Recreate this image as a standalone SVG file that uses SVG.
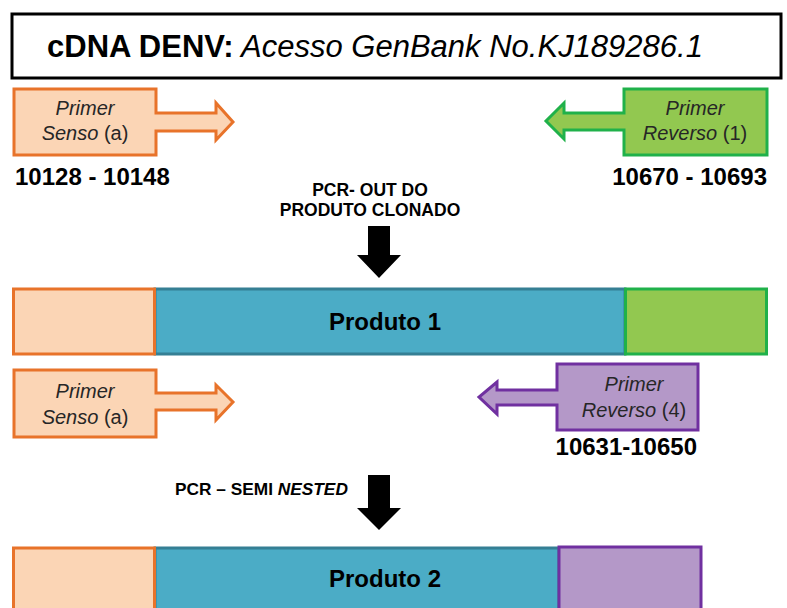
<svg xmlns="http://www.w3.org/2000/svg" width="787" height="608" viewBox="0 0 787 608">
  <style>
    .t { font-family: "Liberation Sans", Arial, sans-serif; fill: #000; }
    .b { font-weight: bold; }
    .i { font-style: italic; }
    .pl { font-family: "Liberation Sans", Arial, sans-serif; font-size: 20px; fill: #262626; text-anchor: middle; }
    .num { font-family: "Liberation Sans", Arial, sans-serif; font-size: 24px; font-weight: bold; fill: #000; }
    .orange { fill: #FBD5B5; stroke: #E8732A; stroke-width: 3; stroke-linejoin: miter; }
    .green { fill: #92C850; stroke: #20B14A; stroke-width: 3; }
    .purple { fill: #B498C8; stroke: #7030A0; stroke-width: 3; }
    .blue { fill: #4BACC6; stroke: #357F94; stroke-width: 3; }
    .down { fill: #000; }
  </style>

  <!-- header -->
  <g id="header">
    <rect x="12" y="14" width="769" height="64" fill="#fff" stroke="#000" stroke-width="3"/>
    <text class="t" x="47" y="57" font-size="31"><tspan class="b">cDNA DENV:</tspan><tspan class="i"> Acesso GenBank No.KJ189286.1</tspan></text>
  </g>

  <!-- first PCR primers -->
  <g id="primer-senso-1">
    <path class="orange" d="M14,89 H156 V113 H216 V103 L233,122 L216,140 V131 H156 V155 H14 Z"/>
    <text class="pl i" x="85" y="115">Primer</text>
    <text class="pl" x="85" y="140"><tspan class="i">Senso</tspan> (a)</text>
    <text class="num" x="15" y="185">10128 - 10148</text>
  </g>

  <g id="primer-reverso-1">
    <path class="green" d="M767,89 H624 V113 H564 V103 L546,121 L564,139 V130 H624 V155 H767 Z"/>
    <text class="pl" x="695" y="115"><tspan class="i">Primer</tspan></text>
    <text class="pl" x="695" y="140"><tspan class="i">Reverso</tspan> (1)</text>
    <text class="num" x="767" y="185" text-anchor="end">10670 - 10693</text>
  </g>

  <!-- step arrows -->
  <g id="connectors">
    <g id="step-1">
      <text class="t b" x="370" y="196" font-size="17.5" text-anchor="middle">PCR- OUT DO</text>
      <text class="t b" x="370" y="216" font-size="17.5" text-anchor="middle">PRODUTO CLONADO</text>
      <path class="down" d="M368,226 H390 V255 H401 L379,278 L357,255 H368 Z"/>
    </g>
    <g id="step-2">
      <text class="t b" x="175" y="495" font-size="17.3">PCR – SEMI <tspan class="i">NESTED</tspan></text>
      <path class="down" d="M368,475 H390 V508 H401 L379,530 L357,508 H368 Z"/>
    </g>
  </g>

  <!-- product 1 -->
  <g id="produto-1">
    <rect class="blue" x="155" y="289" width="470" height="65"/>
    <rect class="orange" x="13.5" y="289" width="141" height="65"/>
    <rect class="green" x="625.5" y="289" width="141" height="65"/>
    <text class="t b" x="385" y="330" font-size="24" text-anchor="middle">Produto 1</text>
  </g>

  <!-- second PCR primers -->
  <g id="primer-senso-2">
    <path class="orange" d="M14,370 H156 V393 H216 V385 L233,402 L216,420 V410 H156 V437 H14 Z"/>
    <text class="pl i" x="85" y="398">Primer</text>
    <text class="pl" x="85" y="424"><tspan class="i">Senso</tspan> (a)</text>
  </g>

  <g id="primer-reverso-4">
    <path class="purple" d="M698,364 H557 V390 H497 V382 L479,397 L497,414 V405 H557 V430 H698 Z"/>
    <text class="pl" x="634" y="391"><tspan class="i">Primer</tspan></text>
    <text class="pl" x="634" y="417"><tspan class="i">Reverso</tspan> (4)</text>
    <text class="num" x="697" y="455" text-anchor="end">10631-10650</text>
  </g>

  <!-- product 2 -->
  <g id="produto-2">
    <rect class="blue" x="155" y="548" width="404" height="70"/>
    <rect class="orange" x="13.5" y="548" width="141" height="70"/>
    <rect class="purple" x="559" y="547" width="142" height="71"/>
    <text class="t b" x="385" y="587" font-size="24" text-anchor="middle">Produto 2</text>
  </g>
</svg>
